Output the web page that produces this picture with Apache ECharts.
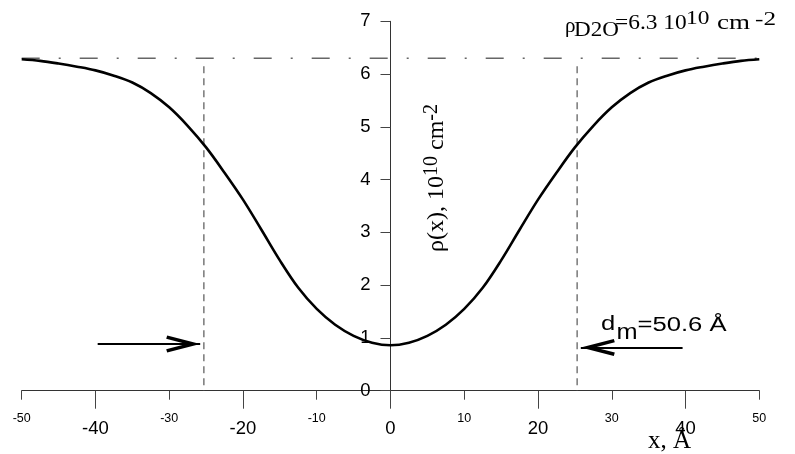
<!DOCTYPE html>
<html>
<head>
<meta charset="utf-8">
<script src="https://cdn.jsdelivr.net/npm/echarts@6/dist/echarts.min.js"></script>
<style>
  html, body { margin: 0; padding: 0; background: #fff; }
  #chart { width: 795px; height: 454px; }
</style>
</head>
<body>
<div id="chart"></div>
<script>
// Scattering length density profile across the membrane
const xValues = [-50, -47.5, -45, -42.5, -40, -37.5, -35, -32.5, -30, -27.5, -25, -22.5, -20, -17.5, -15, -12.5, -10, -7.5, -5, -2.5,
                 0, 2.5, 5, 7.5, 10, 12.5, 15, 17.5, 20, 22.5, 25, 27.5, 30, 32.5, 35, 37.5, 40, 42.5, 45, 47.5, 50];
const rhoValues = [6.28, 6.25, 6.20, 6.14, 6.07, 5.97, 5.84, 5.64, 5.37, 5.02, 4.61, 4.13, 3.62, 3.05, 2.47, 1.95, 1.55, 1.25, 1.04, 0.91,
                   0.86, 0.91, 1.04, 1.25, 1.55, 1.95, 2.47, 3.05, 3.62, 4.13, 4.61, 5.02, 5.37, 5.64, 5.84, 5.97, 6.07, 6.14, 6.20, 6.25, 6.28];

// Axis ticks
const minorTickValues = [-50, -30, -10, 10, 30, 50];
const majorTickValues = [-40, -20, 0, 20, 40];

// Reference level and membrane boundaries
const rhoD2O = 6.3;
const membraneThickness = 50.6;
const guideTop = 6.15;
const arrowLeft = [[-39.7, 0.885], [-25.8, 0.885]];
const arrowRight = [[39.6, 0.82], [25.8, 0.82]];

const halfThickness = membraneThickness / 2;
const curveData = xValues.map((x, i) => [x, rhoValues[i]]);

const SANS = '"Liberation Sans", Arial, sans-serif';
const SERIF = '"Liberation Serif", "Times New Roman", serif';

const GRID = { left: 21.7, top: 21.3, width: 737.6, height: 369.4 };

// Place a text run by its baseline (canvas 'middle' sits ~0.34em above baseline)
function runAt(text, x, baseline, size, family, scaleX) {
  return {
    type: 'text',
    x: x,
    y: baseline - 0.34 * size,
    scaleX: scaleX || 1,
    silent: true,
    style: {
      text: text,
      font: size + 'px ' + family,
      fill: '#000',
      align: 'left', textAlign: 'left',
      verticalAlign: 'middle', textVerticalAlign: 'middle'
    }
  };
}

// Narrow barbed arrow head, tip at the top of the path
const arrowHead = 'path://M0,0 L9,33 L5.5,34 L0,14 L-5.5,34 L-9,33 Z';

const chart = echarts.init(document.getElementById('chart'), null, { renderer: 'canvas' });

chart.setOption({
  animation: false,
  backgroundColor: '#fff',
  grid: Object.assign({ containLabel: false, outerBoundsMode: 'none' }, GRID),
  xAxis: [
    {
      type: 'value', min: -50, max: 50, interval: 10,
      axisLine: { onZero: false, lineStyle: { color: '#333', width: 1 } },
      axisTick: { show: true, length: 9, customValues: minorTickValues, lineStyle: { color: '#444', width: 1 } },
      axisLabel: { customValues: minorTickValues, fontSize: 12.5, margin: 21, color: '#000', fontFamily: SANS },
      splitLine: { show: false }
    },
    {
      type: 'value', min: -50, max: 50, interval: 10, position: 'bottom', offset: 0,
      axisLine: { show: false, onZero: false },
      axisTick: { show: true, length: 18, customValues: majorTickValues, lineStyle: { color: '#444', width: 1 } },
      axisLabel: { customValues: majorTickValues, fontSize: 18.5, margin: 29, color: '#000', fontFamily: SANS },
      splitLine: { show: false }
    }
  ],
  yAxis: {
    type: 'value', min: 0, max: 7, interval: 1,
    position: 'left',
    // the vertical axis sits at x = 0, in the middle of the plot
    offset: -GRID.width / 2,
    axisLine: { show: true, onZero: false, lineStyle: { color: '#333', width: 1 } },
    axisTick: { show: true, length: 10, lineStyle: { color: '#444', width: 1 } },
    axisLabel: { fontSize: 18.5, margin: 20, color: '#000', fontFamily: SANS },
    splitLine: { show: false }
  },
  series: [
    {
      name: 'rho D2O', type: 'line', xAxisIndex: 0, symbol: 'none', silent: true,
      data: [[-50, rhoD2O], [50, rhoD2O]],
      lineStyle: { color: '#666', width: 1.3, type: [18, 19, 2, 19] },
      z: 1
    },
    {
      name: 'left boundary', type: 'line', xAxisIndex: 0, symbol: 'none', silent: true,
      data: [[-halfThickness, guideTop], [-halfThickness, 0]],
      lineStyle: { color: '#555', width: 1.2, type: [7, 5] },
      z: 1
    },
    {
      name: 'right boundary', type: 'line', xAxisIndex: 0, symbol: 'none', silent: true,
      data: [[halfThickness, guideTop], [halfThickness, 0]],
      lineStyle: { color: '#555', width: 1.2, type: [7, 5] },
      z: 1
    },
    {
      name: 'rho(x)', type: 'line', xAxisIndex: 0, symbol: 'none', silent: true,
      smooth: 0.35,
      data: curveData,
      lineStyle: { color: '#000', width: 2.6 },
      z: 3,
      markLine: {
        silent: true,
        symbol: ['none', arrowHead],
        symbolSize: [17, 34],
        symbolOffset: [[0, 0], [0, 17]],
        label: { show: false },
        lineStyle: { color: '#000', width: 1.8, type: 'solid' },
        data: [
          [{ coord: arrowLeft[0] }, { coord: arrowLeft[1] }],
          [{ coord: arrowRight[0] }, { coord: arrowRight[1] }]
        ]
      }
    }
  ],
  graphic: [
    // rho_D2O annotation
    runAt('\u03c1', 565, 33.5, 21, SERIF),
    runAt('D2O', 574, 37.3, 21, SERIF, 1.1),
    runAt('=6.3 10', 615, 31, 20, SERIF, 1.17),
    runAt('10', 686, 25, 18, SERIF, 1.3),
    runAt('cm', 717, 31, 20, SERIF, 1.35),
    runAt('-2', 755, 26.5, 18, SERIF, 1.4),
    // membrane thickness annotation
    runAt('d', 601, 331.7, 20, SANS, 1.28),
    runAt('m', 616.5, 340, 22, SANS, 1.15),
    runAt('=50.6 \u00c5', 637.5, 332, 20, SANS, 1.28),
    // x axis name
    runAt('x, \u00c5', 648, 450, 25, SERIF),
    // y axis name, rotated
    {
      type: 'text', x: 437, y: 178, rotation: Math.PI / 2, silent: true,
      style: {
        text: '{m|\u03c1(x), 10}{s|10}{m| cm}{s|-2}',
        align: 'center', textAlign: 'center',
        verticalAlign: 'middle', textVerticalAlign: 'middle',
        rich: {
          m: { fontSize: 24, fontFamily: SERIF, fill: '#000', color: '#000', lineHeight: 30, verticalAlign: 'middle' },
          s: { fontSize: 20, fontFamily: SERIF, fill: '#000', color: '#000', lineHeight: 14, verticalAlign: 'top' }
        }
      }
    }
  ]
});
</script>
</body>
</html>
